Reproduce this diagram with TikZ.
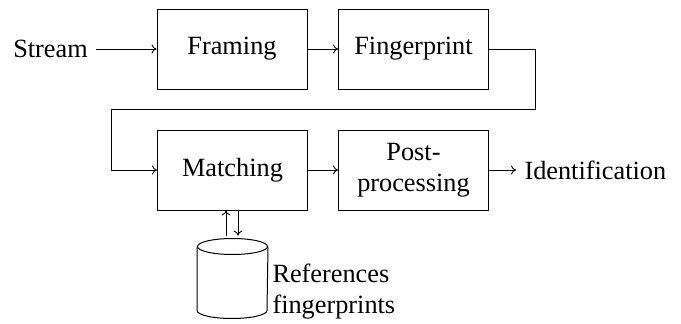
\documentclass[tikz,border=0pt]{standalone}
\usepackage{fontspec}
\setmainfont{Liberation Serif}
\usetikzlibrary{arrows.meta}
\begin{document}
\begin{tikzpicture}[x=1pt,y=1pt,
  font=\fontsize{26.3}{31}\selectfont,
  line width=1pt,
  arr/.style={-{Computer Modern Rightarrow[length=5pt,width=9pt,line width=0.9pt]}},
  blk/.style={draw, minimum width=150pt, minimum height=80pt, align=center, inner sep=2pt},
  lbl/.style={inner sep=8pt}]
\useasboundingbox (0,0) rectangle (681,-324);
\node[blk] (fr) at (232,-49) {Framing};
\node[blk] (fp) at (413.5,-49) {Fingerprint};
\node[blk] (ma) at (232.5,-170) {Matching};
\node[blk] (pp) at (413.5,-170) {Post-\\processing};
\node[lbl] (st) at (50.5,-49) {Stream};
\node[lbl, anchor=west] (id) at (516,-170) {Identification};
% database cylinder
\node[minimum width=70pt, minimum height=79pt, inner sep=0pt] (db) at (232.5,-278.5) {};
\draw ([yshift=-8pt]db.north west) -- ([yshift=8pt]db.south west)
      arc[start angle=180, end angle=360, x radius=35pt, y radius=8pt]
      -- ([yshift=-8pt]db.north east);
\draw ([yshift=-8pt]db.north) ellipse [x radius=35pt, y radius=8pt];
\node[anchor=west, align=left, inner sep=4pt] (rf) at ([yshift=-13pt]db.east) {References\\fingerprints};
\coordinate (r) at (535,-109);
\coordinate (l) at (111,-109);
\draw[arr] (st.east) -- (fr.west);
\draw[arr] (fr.east) -- (fp.west);
\draw[arr] (fp.east) -| (r) -- (l) |- (ma.west);
\draw[arr] (ma.east) -- (pp.west);
\draw[arr] (pp.east) -- (id.west);
\draw[arr, shorten <=3pt] ([xshift=-6.5pt]db.north) -- ([xshift=-6.5pt]db.north |- ma.south);
\draw[arr, shorten >=3pt] ([xshift=5.5pt]db.north |- ma.south) -- ([xshift=5.5pt]db.north);
\end{tikzpicture}
\end{document}
